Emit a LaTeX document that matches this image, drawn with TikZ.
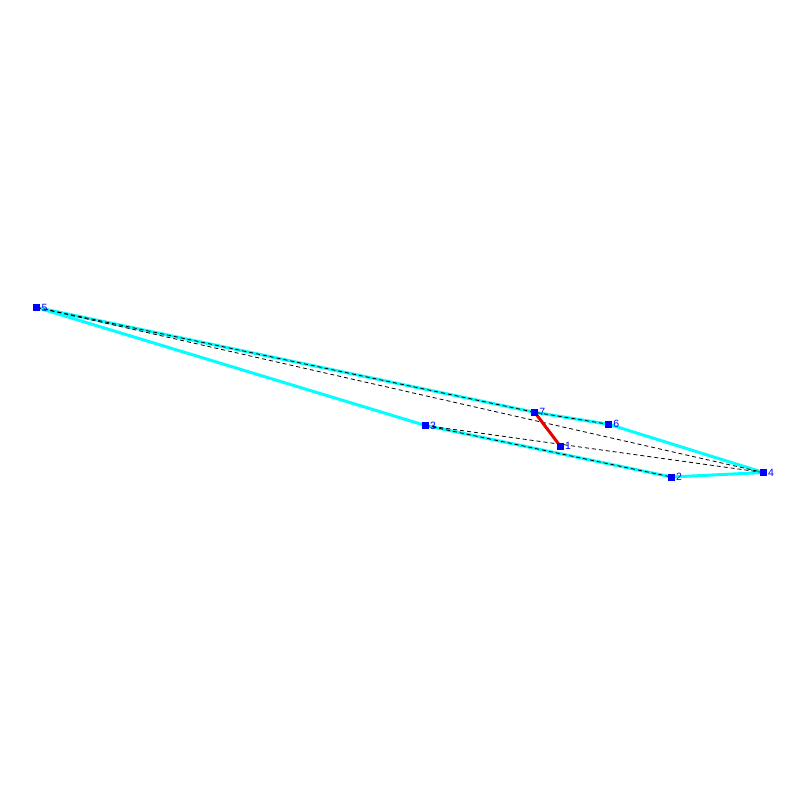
\documentclass[tikz,border=0pt]{standalone}
\usepackage{fontspec}
\setmainfont{Liberation Sans}
\definecolor{edgecyan}{RGB}{0,255,255}
\definecolor{ptblue}{RGB}{0,0,255}
\definecolor{barred}{RGB}{230,0,0}
\begin{document}
\begin{tikzpicture}[x=1pt,y=-1pt,
 ptbox/.style={fill=ptblue,draw=none,minimum size=7pt,inner sep=0pt,outer sep=0pt},
 lab/.style={text=ptblue,font=\fontsize{10.5}{10.5}\selectfont,anchor=west,inner sep=0pt},
 edgeline/.style={edgecyan,line width=3pt,line join=round},
 triline/.style={black,line width=0.8pt,dash pattern=on 4pt off 3pt},
 barline/.style={barred,line width=3pt}]
\useasboundingbox[fill=white] (0,0) rectangle (800,800);
\coordinate (c1) at (560.3,446.2);
\coordinate (c2) at (671.5,477);
\coordinate (c3) at (425.5,425.5);
\coordinate (c4) at (763.5,472.5);
\coordinate (c5) at (36.8,307.5);
\coordinate (c6) at (608.7,424.3);
\coordinate (c7) at (534.7,412.3);
% outline
\draw[edgeline] (c5) -- (c7) -- (c6) -- (c4) -- (c2) -- (c3) -- cycle;
% dashed interior edges
\draw[triline] (c5) -- (c7) -- (c6);
\draw[triline] (c5) -- (c4);
\draw[triline] (c3) -- (c4);
\draw[triline] (c3) -- (c2);
% red bar
\draw[barline] (c7) -- (c1);
% points
\foreach \i in {1,...,7} {
  \node[ptbox] (n\i) at (c\i) {};
  \node[lab] (l\i) at ([xshift=4.5pt]c\i) {\i};
}
\end{tikzpicture}
\end{document}
